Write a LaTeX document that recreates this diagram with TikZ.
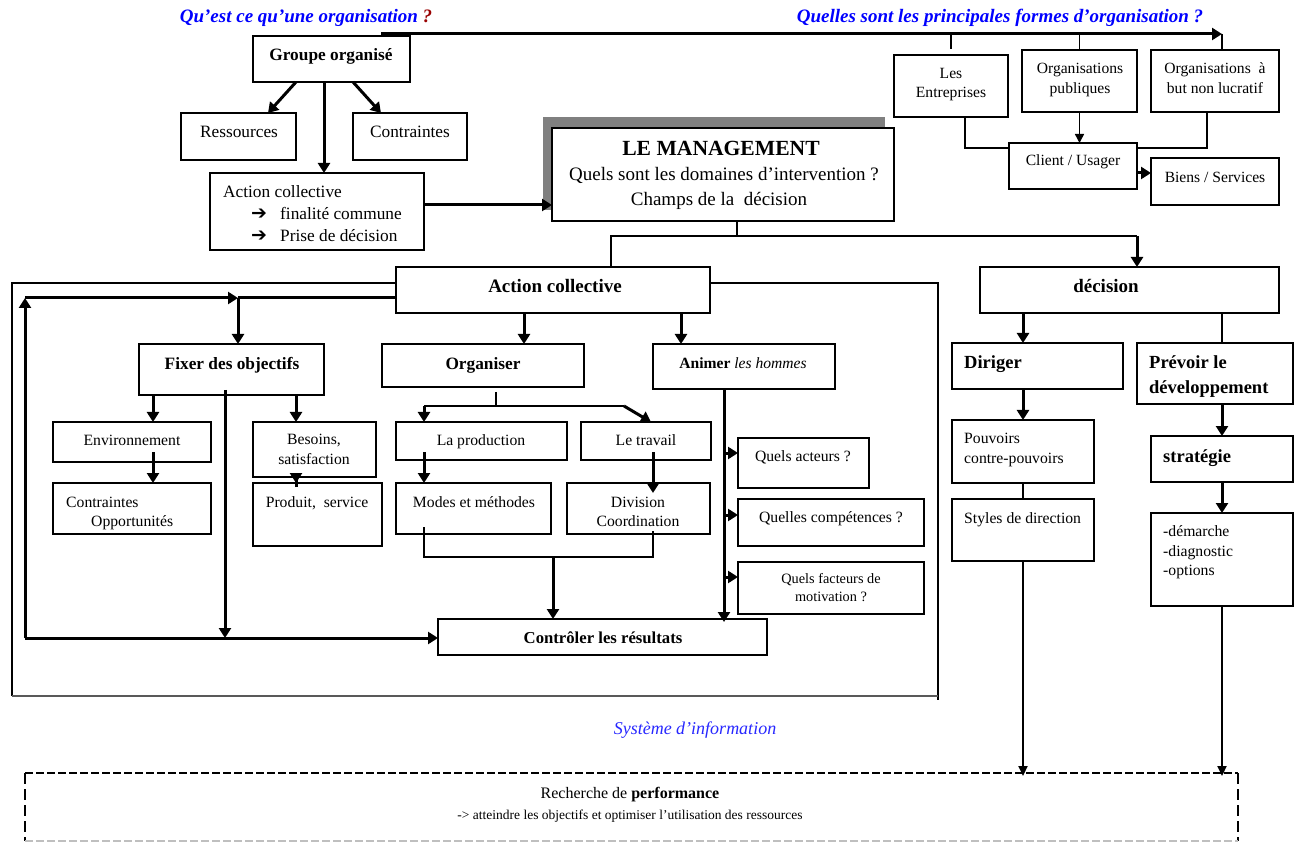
\documentclass[tikz,border=0pt]{standalone}
\usepackage{fontspec}
\setmainfont{Liberation Serif}
\newfontfamily\dvfont{DejaVu Sans}
\usetikzlibrary{arrows.meta}
\definecolor{ttlblue}{RGB}{0,0,255}
\definecolor{qred}{RGB}{153,0,0}
\definecolor{shgray}{RGB}{128,128,128}
\definecolor{infoblue}{RGB}{40,40,255}
\newcommand\fs[1]{\fontsize{#1}{#1}\selectfont}
\tikzset{
 bxs/.style={draw, line width=1.4pt, fill=white, inner sep=0pt, outer sep=0pt, anchor=north west},
 tx/.style={inner sep=0pt, text height=1.18em, text depth=.06em},
 tl/.style={tx, anchor=west},
 ar/.style={line width=3pt, -{Triangle[length=10pt,width=12pt]}},
 arm/.style={line width=2.1pt, -{Triangle[length=10pt,width=9pt]}},
 arn/.style={line width=1.5pt, -{Triangle[length=9pt,width=9pt]}},
 thk/.style={line width=3pt},
 thn/.style={line width=1.4pt},
}
\newcommand\bx[6][]{\pgfmathsetmacro\bxw{#4-#2}\pgfmathsetmacro\bxh{#5-#3}%
 \node[bxs,minimum width=\bxw pt,minimum height=\bxh pt,#1] (#6) at (#2,#3) {};}
\begin{document}
\begin{tikzpicture}[x=1pt,y=-1pt]
\useasboundingbox (0,0) rectangle (1294,842);
\fill[white] (0,0) rectangle (1294,842);

% titles
\node[tx,font=\fs{19}\bfseries\itshape,text=ttlblue] (ttl1) at (306,17) {Qu’est ce qu’une organisation \textcolor{qred}{?}};
\node[tx,font=\fs{19}\bfseries\itshape,text=ttlblue] (ttl2) at (1000,17) {Quelles sont les principales formes d’organisation ?};

% frame of collective action
\draw[line width=1.3pt] (12,696) -- (12,283) -- (938,283) -- (938,700);
\draw[line width=2.2pt,color=black!65] (12,696) -- (938,696);

% top-left
\bx{253}{36}{410}{82}{grp}
\node[tx,font=\fs{17.3}\bfseries] (t-grp) at (331,55) {Groupe organisé};
\bx{181}{113}{296}{160}{res}
\node[tx,font=\fs{17.3}] (t-res) at (239,132) {Ressources};
\bx{353}{113}{467}{160}{con}
\node[tx,font=\fs{17.3}] (t-con) at (410,132) {Contraintes};
\bx{210}{173}{424}{250}{ac1}
\node[tl,font=\fs{17.3}] (t-ac1a) at (223,192) {Action collective};
\node[tl,font=\fs{19}\dvfont\bfseries] (t-ac1b) at (251,214) {➔};
\node[tl,font=\fs{17.3}] (t-ac1c) at (280,214) {finalité commune};
\node[tl,font=\fs{19}\dvfont\bfseries] (t-ac1d) at (251,236) {➔};
\node[tl,font=\fs{17.3}] (t-ac1e) at (280,236) {Prise de décision};

% forms
\bx{894}{55}{1008}{117}{ent}
\node[tx,font=\fs{15.6}] (t-ent1) at (951,73) {Les};
\node[tx,font=\fs{15.6}] (t-ent2) at (951,92) {Entreprises};
\bx{1022}{50}{1137}{112}{pub}
\node[tx,font=\fs{15.6}] (t-pub1) at (1080,68) {Organisations};
\node[tx,font=\fs{15.6}] (t-pub2) at (1080,88) {publiques};
\bx{1151}{50}{1279}{112}{nl}
\node[tx,font=\fs{15.6}] (t-nl1) at (1215,68) {Organisations\ \ à};
\node[tx,font=\fs{15.6}] (t-nl2) at (1215,88) {but non lucratif};
\bx{1009}{143}{1137}{189}{cli}
\node[tx,font=\fs{15.6}] (t-cli) at (1073,160) {Client / Usager};
\bx{1151}{158}{1279}{205}{bs}
\node[tx,font=\fs{15.6}] (t-bs) at (1215,177) {Biens / Services};

% management
\fill[shgray] (543,117) rectangle (885,210);
\bx{552}{128}{894}{221}{mgmt}
\node[tx,font=\fs{21.6}\bfseries] (t-m1) at (721,150) {LE MANAGEMENT};
\node[tx,font=\fs{19}] (t-m2) at (724,175) {Quels sont les domaines d’intervention ?};
\node[tx,font=\fs{19}] (t-m3) at (719,200) {Champs de la\ \ décision};

% second level
\bx{396}{267}{710}{313}{acc}
\node[tx,font=\fs{19}\bfseries] (t-acc) at (555,287) {Action collective};
\bx{980}{267}{1279}{313}{dec}
\node[tx,font=\fs{19}\bfseries] (t-dec) at (1106,287) {décision};

% collective action
\bx{139}{344}{324}{395}{fix}
\node[tx,font=\fs{17.3}\bfseries] (t-fix) at (232,364) {Fixer des objectifs};
\bx{382}{344}{584}{387}{org}
\node[tx,font=\fs{17.3}\bfseries] (t-org) at (483,364) {Organiser};
\bx{653}{344}{835}{389}{ani}
\node[tx,font=\fs{15.6}] (t-ani) at (743,363) {\textbf{Animer} \textit{les hommes}};
\bx{53}{422}{211}{462}{env}
\node[tx,font=\fs{15.7}] (t-env) at (132,440) {Environnement};
\bx{253}{422}{376}{477}{bes}
\node[tx,font=\fs{15.7}] (t-bes1) at (314,439) {Besoins,};
\node[tx,font=\fs{15.7}] (t-bes2) at (314,459) {satisfaction};
\bx{53}{483}{211}{534}{cop}
\node[tl,font=\fs{15.7}] (t-cop1) at (66,502) {Contraintes};
\node[tl,font=\fs{15.7}] (t-cop2) at (91,521) {Opportunités};
\bx{253}{483}{382}{546}{prd}
\node[tx,font=\fs{15.7}] (t-prd) at (317,502) {Produit,\ \ service};
\bx{396}{422}{567}{460}{lap}
\node[tx,font=\fs{15.7}] (t-lap) at (481,440) {La production};
\bx{581}{422}{711}{460}{trv}
\node[tx,font=\fs{15.7}] (t-trv) at (646,440) {Le travail};
\bx{396}{483}{551}{534}{mod}
\node[tx,font=\fs{15.7}] (t-mod) at (474,502) {Modes et méthodes};
\bx{567}{483}{710}{534}{div}
\node[tx,font=\fs{15.7}] (t-div1) at (638,502) {Division};
\node[tx,font=\fs{15.7}] (t-div2) at (638,521) {Coordination};
\bx{738}{438}{869}{488}{qa}
\node[tx,font=\fs{15.7}] (t-qa) at (803,456) {Quels acteurs ?};
\bx{738}{499}{924}{546}{qc}
\node[tx,font=\fs{15.7}] (t-qc) at (831,517) {Quelles compétences ?};
\bx{738}{562}{924}{614}{qm}
\node[tx,font=\fs{14.3}] (t-qm1) at (831,578) {Quels facteurs de};
\node[tx,font=\fs{14.3}] (t-qm2) at (831,596) {motivation ?};
\bx{438}{619}{767}{655}{ctl}
\node[tx,font=\fs{16.7}\bfseries] (t-ctl) at (603,638) {Contrôler les résultats};

% decision
\bx{952}{343}{1123}{389}{dir}
\node[tl,font=\fs{18.5}\bfseries] (t-dir) at (964,363) {Diriger};
\bx{1137}{343}{1293}{404}{prv}
\node[tl,font=\fs{18.5}\bfseries] (t-prv1) at (1149,363) {Prévoir le};
\node[tl,font=\fs{18.5}\bfseries] (t-prv2) at (1149,388) {développement};
\bx{952}{420}{1094}{483}{pvr}
\node[tl,font=\fs{15.7}] (t-pvr1) at (964,438) {Pouvoirs};
\node[tl,font=\fs{15.7}] (t-pvr2) at (964,458) {contre-pouvoirs};
\bx{952}{499}{1094}{561}{sty}
\node[tl,font=\fs{15.7}] (t-sty) at (964,518) {Styles de direction};
\bx{1151}{436}{1293}{482}{str}
\node[tl,font=\fs{18.5}\bfseries] (t-str) at (1163,457) {stratégie};
\bx{1151}{513}{1293}{606}{dem}
\node[tl,font=\fs{15.7}] (t-dem1) at (1163,531) {-démarche};
\node[tl,font=\fs{15.7}] (t-dem2) at (1163,551) {-diagnostic};
\node[tl,font=\fs{15.7}] (t-dem3) at (1163,570) {-options};

% information system & performance
\node[tx,font=\fs{18}\itshape,text=infoblue] (t-si) at (695,729) {Système d’information};
\node[inner sep=0pt,outer sep=0pt,minimum width=1213pt,minimum height=68pt,anchor=north west] (perf) at (25,773) {};
\draw[line width=2.2pt,dash pattern=on 8pt off 3pt] (perf.north west) -- (perf.north east);
\draw[line width=1.4pt,dash pattern=on 11pt off 5pt] (perf.north west) -- (perf.south west);
\draw[line width=1.4pt,dash pattern=on 11pt off 5pt] (perf.north east) -- (perf.south east);
\draw[line width=1.3pt,black!25,dash pattern=on 8pt off 3pt] (perf.south west) -- (perf.south east);
\node[tx,font=\fs{16}] (t-perf1) at (630,793) {Recherche de \textbf{performance}};
\node[tx,font=\fs{13.5}] (t-perf2) at (630,814) {-> atteindre les objectifs et optimiser l’utilisation des ressources};

% ---- connectors ----
\draw[ar] (grp.south -| 296,0) -- (res.north -| 268,0);
\draw[ar] (grp.south -| 324,0) -- (ac1.north -| 324,0);
\draw[ar] (grp.south -| 353,0) -- (con.north -| 381,0);
\draw[ar] (ac1.east |- 0,205) -- (mgmt.west |- 0,205);

\coordinate (tl0) at (381,34);
\coordinate (tl1) at (1222,34);
\draw[ar] (tl0) -- (tl1);
\draw[thn] (tl0 -| ent.north) -- ([yshift=6pt]ent.north);
\draw[thn] (tl0 -| pub.north) -- (pub.north);
\draw[thn] (tl1) -- (tl1 |- nl.north);
\draw[arn] (pub.south) -- (pub.south |- cli.north);
\draw[thn] (ent.south -| 965,0) |- (cli.west |- 0,148);
\draw[thn] (nl.south -| 1207,0) |- (cli.east |- 0,148);
\draw[ar] (cli.east |- 0,173) -- (bs.west |- 0,173);

\coordinate (mj) at (737,236);
\draw[thn] (mgmt.south -| mj) -- (mj);
\draw[thn] (acc.north -| 611,0) |- (mj);
\draw[thn] (mj) -- (mj -| 1137,0);
\draw[ar] (mj -| 1137,0) -- (dec.north -| 1137,0);

\coordinate (lpT) at (25,298);
\coordinate (lpB) at (25,638);
\coordinate (lpJ) at (238,298);
\draw[thk] (acc.west |- lpT) -- (lpJ);
\draw[ar] (lpB) -- (lpT);
\draw[ar] (lpT) -- (lpJ);
\draw[ar] (lpJ) -- (lpJ |- fix.north);
\draw[ar] (lpB) -- (lpB -| ctl.west);
\draw[ar,shorten <=-5pt] (fix.south -| 225,0) -- (lpB -| 225,0);

\draw[ar] (acc.south -| 524,0) -- (org.north -| 524,0);
\draw[ar] (acc.south -| 681,0) -- (ani.north -| 681,0);
\draw[ar] (fix.south -| 153,0) -- (env.north -| 153,0);
\draw[ar] (fix.south -| 296,0) -- (bes.north -| 296,0);
\draw[ar,shorten <=-10pt] (env.south -| 153,0) -- (cop.north -| 153,0);
\draw[ar,shorten <=-10pt] (bes.south -| 296,0) -- (prd.north -| 296,0);

\coordinate (oj) at (496,406);
\draw[thn,shorten <=5pt] (org.south -| oj) -- (oj);
\draw[thn] (oj) -- (oj -| 424,0);
\draw[ar] (oj -| 424,0) -- (lap.north -| 424,0);
\draw[thn] (oj) -- (oj -| 624,0);
\draw[ar] (oj -| 624,0) -- (trv.north -| 651,0);
\draw[ar,shorten <=-8pt] (lap.south -| 424,0) -- (mod.north -| 424,0);
\draw[ar,shorten <=-8pt,shorten >=-10pt] (trv.south -| 653,0) -- (div.north -| 653,0);
\coordinate (bj) at (553,557);
\draw[thn,shorten <=-7pt] (mod.south -| 424,0) |- (bj);
\draw[thn,shorten <=-3pt] (div.south -| 653,0) |- (bj);
\draw[ar] (bj) -- (ctl.north -| bj);

\coordinate (ax) at (724,389);
\draw[ar,shorten >=-3pt] (ani.south -| ax) -- (ctl.north -| ax);
\draw[ar] (ax |- 0,453) -- (qa.west |- 0,453);
\draw[ar] (ax |- 0,515) -- (qc.west |- 0,515);
\draw[ar] (ax |- 0,577) -- (qm.west |- 0,577);

\draw[ar] (dec.south -| 1023,0) -- (dir.north -| 1023,0);
\draw[thn] (dec.south -| 1222,0) -- (prv.north -| 1222,0);
\draw[ar] (dir.south -| 1023,0) -- (pvr.north -| 1023,0);
\draw[thn] (pvr.south -| 1023,0) -- (sty.north -| 1023,0);
\draw[arm,shorten >=-3pt] (sty.south -| 1023,0) -- (perf.north -| 1023,0);
\draw[ar] (prv.south -| 1222,0) -- (str.north -| 1222,0);
\draw[ar] (str.south -| 1222,0) -- (dem.north -| 1222,0);
\draw[arm,shorten >=-3pt] (dem.south -| 1222,0) -- (perf.north -| 1222,0);
\end{tikzpicture}
\end{document}
